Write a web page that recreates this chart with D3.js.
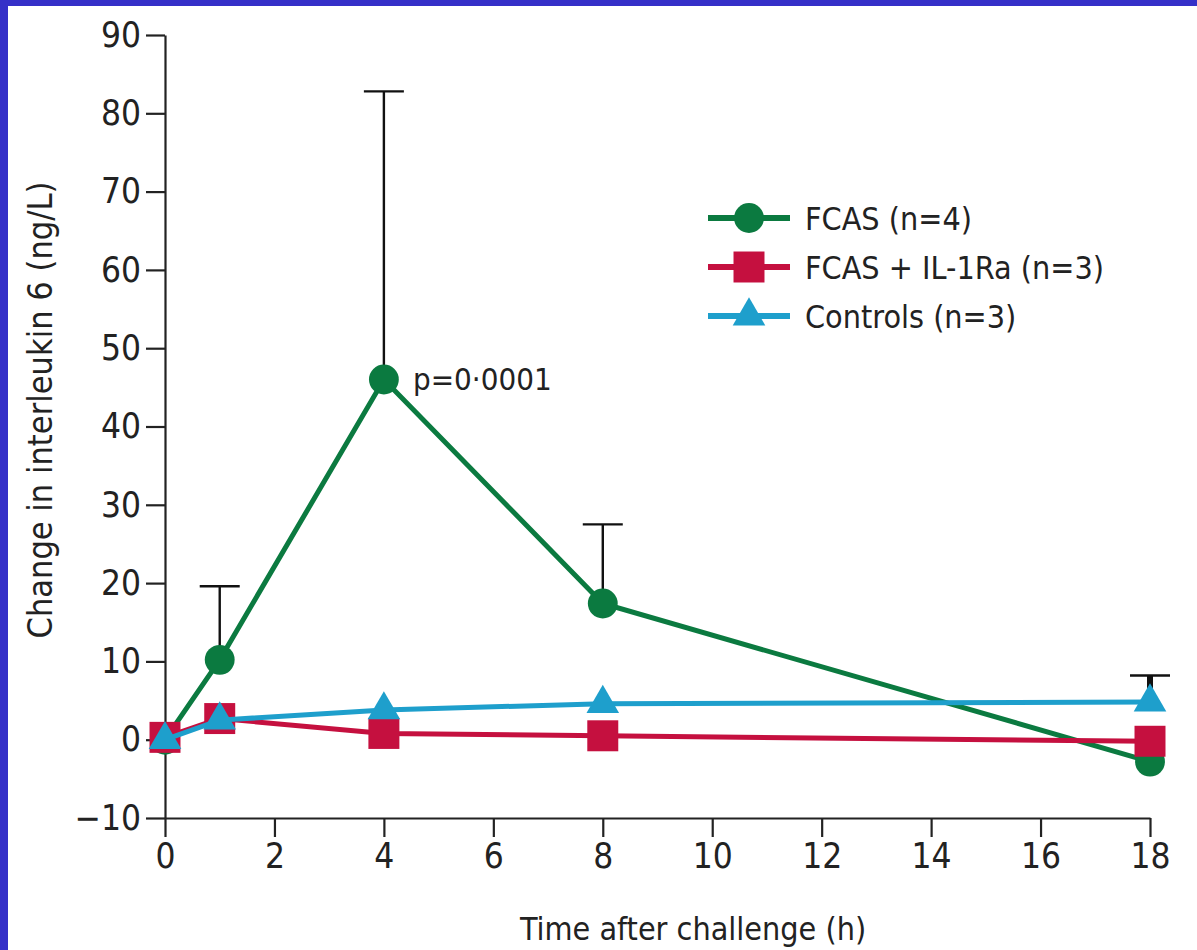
<!DOCTYPE html>
<html>
<head>
<meta charset="utf-8">
<script src="https://cdn.jsdelivr.net/npm/d3@7"></script>
<style>
  body { margin: 0; background: #fff; }
  svg text { font-family: "Liberation Sans Narrow", "DejaVu Sans Condensed", "Open Sans", sans-serif; fill: #222; }
</style>
</head>
<body>
<svg width="1197" height="950"></svg>
<script>
// time points (h)
var hours = [0, 1, 4, 8, 18];

// mean change in IL-6 (ng/L)
var fcas = [0, 10.2, 46, 17.4, -2.8];
var fcasIL1 = [0.3, 2.7, 0.8, 0.5, -0.2];
var controls = [0, 2.5, 3.8, 4.6, 4.8];

// upper error bar ends (only where visible)
var fcasUpper = [null, 19.6, 82.8, 27.5, null];
var controlsUpper = [null, null, null, null, 8.2];

var xTicks = [0, 2, 4, 6, 8, 10, 12, 14, 16, 18];
var yTicks = [-10, 0, 10, 20, 30, 40, 50, 60, 70, 80, 90];

var legendLabels = ["FCAS (n=4)", "FCAS + IL-1Ra (n=3)", "Controls (n=3)"];

var green = "#0b7a40", crimson = "#c5103f", cyan = "#1e9fcc";

var svg = d3.select("svg");

// blue frame
svg.append("rect").attr("x", 0).attr("y", 0).attr("width", 1197).attr("height", 6).attr("fill", "#3530c8");
svg.append("rect").attr("x", 0).attr("y", 0).attr("width", 8).attr("height", 950).attr("fill", "#3530c8");

var x = d3.scaleLinear().domain([0, 18]).range([165, 1150]);
var y = d3.scaleLinear().domain([-10, 90]).range([818, 35]);

var yAxis = svg.append("g")
    .attr("transform", "translate(165,0)")
    .call(d3.axisLeft(y).tickValues(yTicks).tickSize(19).tickSizeOuter(0).tickPadding(5)
        .tickFormat(function(d){ return d < 0 ? "\u2212" + Math.abs(d) : d; }));

var xAxis = svg.append("g")
    .attr("transform", "translate(0,818)")
    .call(d3.axisBottom(x).tickValues(xTicks).tickSize(19).tickSizeOuter(0).tickPadding(6));

[yAxis, xAxis].forEach(function(a){
    a.select(".domain").attr("stroke", "#222").attr("stroke-width", 2.2);
    a.selectAll(".tick line").attr("stroke", "#222").attr("stroke-width", 2.2);
    a.selectAll(".tick text").style("font-size", "35px").attr("fill", "#222");
});

svg.append("text")
    .attr("transform", "translate(52,410) rotate(-90)")
    .attr("text-anchor", "middle")
    .style("font-size", "34px")
    .text("Change in interleukin 6 (ng/L)");

svg.append("text")
    .attr("x", 693).attr("y", 940)
    .attr("text-anchor", "middle")
    .style("font-size", "32px")
    .text("Time after challenge (h)");

// error bars
function errorBars(upper, mean, w, capW)
{
    var pts = hours.map(function(h, i){ return {h: h, lo: mean[i], hi: upper[i]}; })
        .filter(function(d){ return d.hi != null; });
    var g = svg.append("g");
    g.selectAll("line.stem").data(pts).enter().append("line")
        .attr("x1", function(d){ return x(d.h); }).attr("x2", function(d){ return x(d.h); })
        .attr("y1", function(d){ return y(d.lo); }).attr("y2", function(d){ return y(d.hi); })
        .attr("stroke", "#111").attr("stroke-width", w);
    g.selectAll("line.cap").data(pts).enter().append("line")
        .attr("x1", function(d){ return x(d.h) - capW; }).attr("x2", function(d){ return x(d.h) + capW; })
        .attr("y1", function(d){ return y(d.hi); }).attr("y2", function(d){ return y(d.hi); })
        .attr("stroke", "#111").attr("stroke-width", 2.4);
}
errorBars(fcasUpper, fcas, 2.4, 20);
errorBars(controlsUpper, controls, 6, 20);

var line = d3.line().x(function(d){ return x(d[0]); }).y(function(d){ return y(d[1]); });

var series = [
    {vals: fcas, color: green, shape: d3.symbolCircle, size: 700},
    {vals: fcasIL1, color: crimson, shape: d3.symbolSquare, size: 960},
    {vals: controls, color: cyan, shape: d3.symbolTriangle, size: 460}
];

series.forEach(function(s){
    var pts = hours.map(function(h, i){ return [h, s.vals[i]]; });
    svg.append("path").datum(pts)
        .attr("d", line)
        .attr("fill", "none")
        .attr("stroke", s.color)
        .attr("stroke-width", 5);
    svg.append("g").selectAll("path").data(pts).enter().append("path")
        .attr("d", d3.symbol().type(s.shape).size(s.size))
        .attr("transform", function(d){ return "translate(" + x(d[0]) + "," + y(d[1]) + ")"; })
        .attr("fill", s.color);
});

svg.append("text")
    .attr("x", 413).attr("y", 390)
    .style("font-size", "31px")
    .text("p=0\u00b70001");

// legend
var legend = svg.append("g").attr("transform", "translate(708,218)");
var rows = legend.selectAll("g").data(series).enter().append("g")
    .attr("transform", function(d, i){ return "translate(0," + i * 49 + ")"; });
rows.append("line")
    .attr("x1", 0).attr("x2", 82).attr("y1", 0).attr("y2", 0)
    .attr("stroke", function(d){ return d.color; })
    .attr("stroke-width", 6);
rows.append("path")
    .attr("d", function(d){ return d3.symbol().type(d.shape).size(d.size)(); })
    .attr("transform", "translate(41,0)")
    .attr("fill", function(d){ return d.color; });
rows.append("text")
    .attr("x", 97).attr("y", 12)
    .style("font-size", "32px")
    .text(function(d, i){ return legendLabels[i]; });
</script>
</body>
</html>
